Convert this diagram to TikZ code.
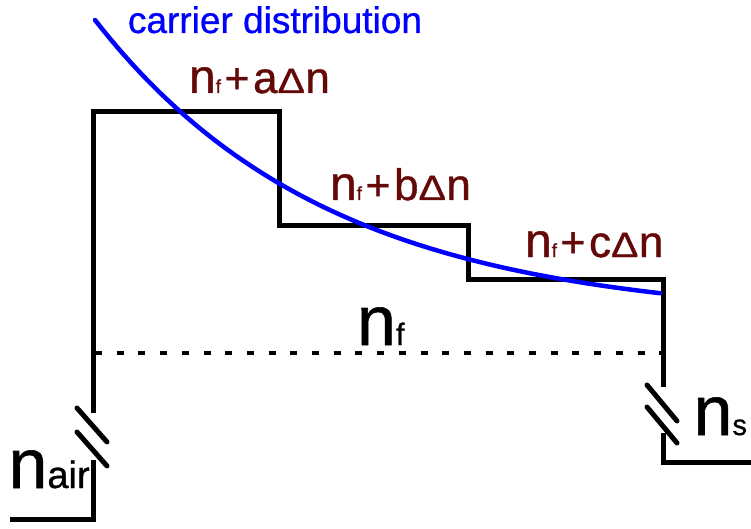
\documentclass[tikz,border=0pt]{standalone}
\usepackage{fontspec}
\setmainfont[FakeBold=0.8]{Liberation Sans}
\usepackage{graphicx}
\definecolor{labred}{RGB}{100,8,8}
\definecolor{curveblue}{RGB}{0,0,255}
\newcommand{\fsz}[1]{\fontsize{#1}{#1}\selectfont}
\newcommand{\dlt}{\scalebox{0.93}[0.8]{\fsz{44}Δ}}
\newcommand{\steplab}[1]{{\fsz{48}n}{\fsz{19}f}\hspace{3.5pt}{\fsz{43}+}\hspace{3.5pt}{\fsz{44}#1}\dlt\hspace{0.5pt}{\fsz{44}n}}
\begin{document}
\begin{tikzpicture}[x=1pt,y=-1pt,
  prof/.style={line width=5pt,black,line cap=butt,line join=miter},
  brk/.style={line width=5pt,black,line cap=round},
  lbl/.style={anchor=base west,inner sep=0pt,outer sep=0pt},
  steptxt/.style={lbl,text=labred}]
\useasboundingbox (0,0) rectangle (751,529);
% coordinates of the profile
\coordinate (bl0) at (10,519);
\coordinate (bl1) at (93,519);
\coordinate (bl2) at (93,460);
\coordinate (lt0) at (93,413);
\coordinate (t1) at (93,112);
\coordinate (t2) at (279,112);
\coordinate (t3) at (279,225);
\coordinate (t4) at (468,225);
\coordinate (t5) at (468,279);
\coordinate (t6) at (663,279);
\coordinate (rt0) at (663,387);
\coordinate (br2) at (663,433);
\coordinate (br1) at (663,462);
\coordinate (br0) at (751,462);
\coordinate (dl) at (93,353);
\coordinate (dr) at (663,353);
% profile
\draw[prof] (bl0) -- (bl1) -- (bl2);
\draw[prof] (lt0) -- (t1) -- (t2) -- (t3) -- (t4) -- (t5) -- (t6) -- (rt0);
\draw[prof] (br2) -- (br1) -- (br0);
% break marks
\coordinate (la1) at (77,408); \coordinate (la2) at (107,442);
\coordinate (lb1) at (77,432); \coordinate (lb2) at (107,466);
\coordinate (ra1) at (647,385); \coordinate (ra2) at (677,421);
\coordinate (rb1) at (647,407); \coordinate (rb2) at (677,443);
\draw[brk] (la1) -- (la2);
\draw[brk] (lb1) -- (lb2);
\draw[brk] (ra1) -- (ra2);
\draw[brk] (rb1) -- (rb2);
% dashed film level
\draw[line width=4.5pt,black,dash pattern=on 7pt off 14.7pt,dash phase=-2pt] (dl) -- (dr);
% carrier distribution curve
\draw[curveblue,line width=4.5pt,line cap=round] plot[domain=95:660,samples=80,smooth] (\x,{320-300*exp(-(\x-95)/234)});
% labels
\node[lbl,text=curveblue] (cd) at (128,33) {\fsz{37}carrier distribution};
\node[steptxt] (la) at (189,93) {\steplab{a}};
\node[steptxt] (lb) at (330,200) {\steplab{b}};
\node[steptxt] (lc) at (525,257) {\steplab{c}};
\node[lbl] (nf) at (357,345) {{\fsz{70}n}{\fsz{31}f}};
\node[lbl] (nair) at (8.5,488) {{\fsz{70}n}{\fsz{38}air}};
\node[lbl] (ns) at (693.5,435) {{\fsz{70}n}{\fsz{29}s}};
\end{tikzpicture}
\end{document}
